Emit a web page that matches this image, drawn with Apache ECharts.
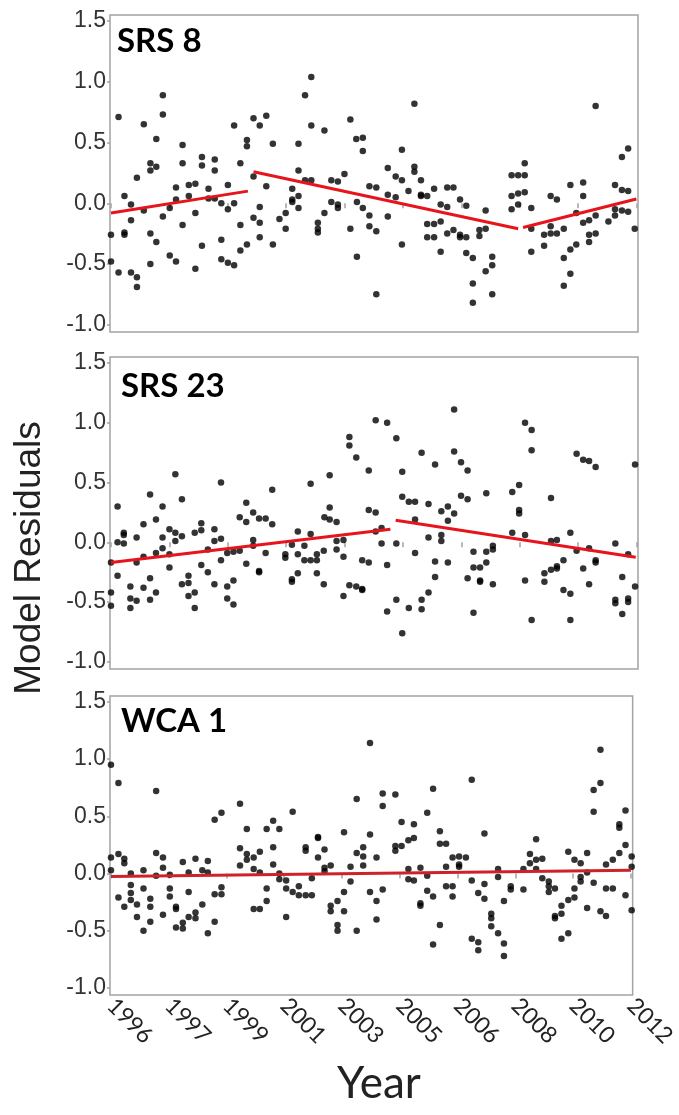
<!DOCTYPE html>
<html>
<head>
<meta charset="utf-8">
<script src="https://cdn.jsdelivr.net/npm/echarts/dist/echarts.min.js"></script>
<style>
html,body{margin:0;padding:0;background:#fff;}
#chart{width:679px;height:1115px;}
</style>
</head>
<body>
<div id="chart"></div>
<script>
// ---- tick labels ----
const yTickValues = [-1.0, -0.5, 0.0, 0.5, 1.0, 1.5];
const xTickValues = [1996, 1997.78, 1999.56, 2001.33, 2003.11, 2004.89, 2006.67, 2008.44, 2010.22, 2012];
const xTickLabels = ['1996', '1997', '1999', '2001', '2003', '2005', '2006', '2008', '2010', '2012'];
const panelNames = ['SRS 8', 'SRS 23', 'WCA 1'];

// ---- residuals [decimal year, residual] ----
const srs8Points = [
[1996.00,-0.26],[1996.00,-0.48],[1996.23,0.71],[1996.23,-0.57],[1996.41,0.06],[1996.41,-0.24],[1996.41,-0.26],[1996.61,-0.01],[1996.61,-0.14],[1996.61,-0.57],[1996.79,0.21],[1996.79,-0.61],[1996.79,-0.69],[1997.00,0.65],[1997.00,-0.06],[1997.20,0.33],[1997.20,0.27],[1997.20,-0.25],[1997.20,-0.50],[1997.38,0.53],[1997.38,0.30],[1997.38,-0.32],[1997.58,0.89],[1997.58,0.73],[1997.58,-0.11],[1997.79,-0.04],[1997.79,-0.43],[1997.98,0.13],[1997.98,0.03],[1997.98,-0.48],[1998.18,0.48],[1998.18,0.33],[1998.18,-0.18],[1998.37,0.15],[1998.37,0.06],[1998.57,0.16],[1998.57,-0.08],[1998.57,-0.54],[1998.77,0.38],[1998.77,0.31],[1998.77,-0.35],[1998.97,0.12],[1998.97,0.04],[1999.16,0.36],[1999.16,0.27],[1999.16,0.04],[1999.36,0.00],[1999.36,-0.30],[1999.36,-0.46],[1999.56,0.15],[1999.56,-0.05],[1999.56,-0.49],[1999.75,0.64],[1999.75,0.00],[1999.75,-0.51],[1999.94,0.33],[1999.94,-0.18],[1999.94,-0.39],[2000.14,0.52],[2000.14,0.47],[2000.14,-0.34],[2000.34,0.70],[2000.34,0.22],[2000.34,-0.12],[2000.53,0.64],[2000.53,-0.03],[2000.53,-0.16],[2000.53,-0.28],[2000.73,0.72],[2000.73,0.14],[2000.93,0.49],[2000.93,-0.34],[2001.13,-0.13],[2001.32,-0.08],[2001.32,-0.21],[2001.52,0.12],[2001.52,0.03],[2001.52,0.01],[2001.71,0.49],[2001.71,0.27],[2001.71,0.06],[2001.71,-0.04],[2001.91,0.89],[2001.91,0.19],[2002.10,1.04],[2002.10,0.64],[2002.10,0.19],[2002.30,-0.16],[2002.30,-0.21],[2002.30,-0.24],[2002.50,0.60],[2002.50,-0.08],[2002.71,0.19],[2002.71,0.01],[2002.91,0.18],[2002.91,-0.01],[2002.91,-0.04],[2003.11,0.24],[2003.29,0.69],[2003.29,-0.21],[2003.47,0.53],[2003.49,0.01],[2003.49,-0.44],[2003.67,0.54],[2003.67,0.43],[2003.67,-0.04],[2003.87,0.14],[2003.87,-0.10],[2003.87,-0.19],[2004.08,0.13],[2004.08,-0.23],[2004.08,-0.75],[2004.43,0.29],[2004.43,0.07],[2004.43,-0.11],
[2004.67,0.22],[2004.67,0.05],[2004.86,0.44],[2004.86,0.19],[2004.86,-0.34],[2005.06,0.10],[2005.24,0.82],[2005.24,0.30],[2005.24,0.26],[2005.44,0.19],[2005.44,0.07],[2005.44,0.06],[2005.63,0.06],[2005.63,-0.17],[2005.63,-0.28],[2005.84,0.12],[2005.84,-0.17],[2005.84,-0.28],[2006.04,-0.01],[2006.04,-0.15],[2006.04,-0.40],[2006.24,0.13],[2006.24,-0.03],[2006.24,-0.25],[2006.43,0.13],[2006.43,-0.22],[2006.63,0.03],[2006.63,-0.26],[2006.63,-0.28],[2006.82,-0.02],[2006.82,-0.28],[2006.82,-0.41],[2007.02,-0.45],[2007.02,-0.66],[2007.02,-0.82],[2007.22,-0.22],[2007.22,-0.27],[2007.41,-0.06],[2007.41,-0.21],[2007.41,-0.56],[2007.61,-0.44],[2007.61,-0.51],[2007.61,-0.75],[2008.20,0.23],[2008.20,0.06],[2008.20,-0.05],[2008.40,0.23],[2008.40,0.08],[2008.40,-0.01],[2008.60,0.33],[2008.60,0.23],[2008.60,0.09],[2008.80,-0.04],[2008.80,-0.21],[2008.80,-0.40],[2009.19,-0.26],[2009.19,-0.35],[2009.39,0.06],[2009.39,-0.19],[2009.39,-0.25],[2009.58,0.03],[2009.58,-0.25],[2009.79,-0.21],[2009.79,-0.45],[2009.79,-0.68],[2009.99,0.15],[2009.99,-0.38],[2009.99,-0.58],[2010.17,-0.08],[2010.17,-0.34],[2010.38,0.17],[2010.38,0.06],[2010.38,-0.16],[2010.56,-0.14],[2010.56,-0.26],[2010.56,-0.32],[2010.76,0.80],[2010.76,-0.10],[2010.76,-0.25],[2011.15,-0.15],[2011.35,0.15],[2011.35,-0.05],[2011.35,-0.10],[2011.56,0.38],[2011.56,0.11],[2011.56,-0.06],[2011.75,0.45],[2011.75,0.10],[2011.75,-0.07],[2011.95,-0.21]
];
const srs23Points = [
[1996.00,-0.17],[1996.00,-0.42],[1996.00,-0.53],[1996.20,0.30],[1996.20,0.00],[1996.20,-0.28],[1996.39,0.08],[1996.39,0.06],[1996.39,-0.01],[1996.59,-0.37],[1996.59,-0.47],[1996.59,-0.55],[1996.78,0.04],[1996.78,-0.17],[1996.78,-0.49],[1996.99,0.15],[1996.99,-0.12],[1996.99,-0.38],[1997.19,0.40],[1997.19,-0.30],[1997.19,-0.48],[1997.37,0.19],[1997.37,-0.09],[1997.37,-0.42],[1997.57,0.30],[1997.57,0.04],[1997.57,-0.05],[1997.78,0.11],[1997.78,-0.10],[1997.78,-0.21],[1997.96,0.57],[1997.96,0.08],[1997.96,0.01],[1998.16,0.36],[1998.16,0.05],[1998.16,-0.35],[1998.36,-0.28],[1998.36,-0.34],[1998.36,-0.45],[1998.55,0.08],[1998.55,-0.42],[1998.55,-0.55],[1998.75,0.16],[1998.75,0.10],[1998.75,-0.19],[1998.95,-0.06],[1998.95,-0.25],[1999.15,0.11],[1999.15,0.01],[1999.15,-0.35],[1999.35,0.50],[1999.35,0.03],[1999.35,-0.15],[1999.54,-0.09],[1999.54,-0.37],[1999.54,-0.47],[1999.73,-0.08],[1999.73,-0.32],[1999.73,-0.52],[1999.92,0.21],[1999.92,-0.07],[2000.12,0.33],[2000.12,0.17],[2000.12,-0.18],[2000.33,0.25],[2000.33,0.02],[2000.33,-0.03],[2000.51,0.20],[2000.51,-0.24],[2000.51,-0.25],[2000.71,0.20],[2000.71,-0.09],[2000.91,0.44],[2000.91,0.15],[2001.31,-0.10],[2001.31,-0.13],[2001.51,-0.02],[2001.51,-0.31],[2001.51,-0.33],[2001.69,0.09],[2001.69,-0.10],[2001.69,-0.26],[2001.89,-0.03],[2001.89,-0.15],[2002.08,0.49],[2002.08,0.07],[2002.08,-0.15],[2002.27,-0.10],[2002.27,-0.15],[2002.27,-0.26],[2002.48,-0.07],[2002.48,-0.35],[2002.50,0.21],[2002.66,0.56],[2002.66,0.29],[2002.66,0.19],[2002.87,0.17],[2002.87,0.01],[2002.87,-0.06],[2003.08,0.02],[2003.08,-0.12],[2003.08,-0.45],[2003.26,0.88],[2003.26,0.81],[2003.26,-0.36],[2003.47,0.71],[2003.47,-0.37],[2003.65,-0.15],[2003.65,-0.39],[2003.65,-0.40],[2003.85,0.60],[2003.85,0.27],[2003.85,-0.17],[2004.06,1.02],[2004.06,0.25],[2004.06,0.09],[2004.24,0.12],[2004.24,-0.01],[2004.41,1.00],[2004.41,-0.19],[2004.41,-0.58],
[2004.69,0.87],[2004.69,-0.01],[2004.69,-0.48],[2004.87,0.59],[2004.87,0.38],[2004.87,-0.76],[2005.07,0.34],[2005.07,-0.55],[2005.26,0.34],[2005.26,0.19],[2005.26,-0.09],[2005.46,0.75],[2005.46,-0.48],[2005.46,-0.56],[2005.67,0.32],[2005.67,0.04],[2005.67,-0.42],[2005.87,0.65],[2005.87,-0.16],[2005.87,-0.29],[2006.06,0.26],[2006.06,0.06],[2006.06,0.01],[2006.26,0.30],[2006.26,0.18],[2006.26,-0.17],[2006.45,1.11],[2006.45,0.76],[2006.45,0.24],[2006.66,0.67],[2006.66,0.39],[2006.86,0.60],[2006.86,0.36],[2006.86,-0.30],[2007.04,-0.08],[2007.04,-0.21],[2007.04,-0.59],[2007.24,-0.21],[2007.24,-0.32],[2007.24,-0.33],[2007.43,0.41],[2007.43,-0.08],[2007.43,-0.17],[2007.63,-0.03],[2007.63,-0.06],[2007.63,-0.35],[2008.22,0.42],[2008.22,0.08],[2008.43,0.48],[2008.43,0.27],[2008.43,0.24],[2008.61,1.00],[2008.61,0.06],[2008.61,-0.32],[2008.81,0.94],[2008.81,0.77],[2008.81,-0.65],[2009.20,-0.26],[2009.20,-0.33],[2009.40,0.37],[2009.40,0.01],[2009.40,-0.23],[2009.58,0.02],[2009.58,-0.20],[2009.58,-0.22],[2009.78,-0.15],[2009.78,-0.40],[2009.99,0.08],[2009.99,-0.43],[2009.99,-0.65],[2010.18,0.74],[2010.18,-0.07],[2010.38,0.69],[2010.38,-0.22],[2010.56,0.68],[2010.56,-0.05],[2010.56,-0.35],[2010.76,0.63],[2010.76,-0.15],[2010.76,-0.17],[2011.36,-0.01],[2011.36,-0.48],[2011.36,-0.51],[2011.57,-0.29],[2011.57,-0.60],[2011.75,-0.10],[2011.75,-0.47],[2011.75,-0.50],[2011.96,0.65],[2011.96,-0.37]
];
const wca1Points = [
[1996.00,0.95],[1996.00,0.14],[1996.00,0.03],[1996.23,0.79],[1996.23,0.17],[1996.23,-0.21],[1996.41,0.13],[1996.41,0.09],[1996.41,-0.29],[1996.61,0.00],[1996.61,-0.10],[1996.61,-0.17],[1996.61,-0.23],[1996.80,-0.27],[1996.80,-0.38],[1997.00,0.03],[1997.00,-0.13],[1997.00,-0.50],[1997.21,-0.22],[1997.21,-0.29],[1997.21,-0.42],[1997.39,0.72],[1997.39,0.18],[1997.39,-0.02],[1997.60,0.14],[1997.60,0.05],[1997.60,-0.36],[1997.81,-0.01],[1997.81,-0.13],[1997.81,-0.20],[1998.00,-0.29],[1998.00,-0.31],[1998.00,-0.47],[1998.21,0.10],[1998.21,-0.43],[1998.21,-0.48],[1998.39,0.01],[1998.39,-0.16],[1998.39,-0.38],[1998.60,0.13],[1998.60,-0.34],[1998.60,-0.39],[1998.81,0.03],[1998.81,-0.27],[1998.98,0.11],[1998.98,0.01],[1998.98,-0.52],[1999.19,0.47],[1999.19,-0.18],[1999.19,-0.42],[1999.40,0.53],[1999.40,-0.12],[1999.40,-0.18],[1999.97,0.61],[1999.97,0.22],[1999.97,0.07],[2000.18,0.39],[2000.18,0.17],[2000.18,0.12],[2000.39,0.14],[2000.39,0.04],[2000.39,-0.31],[2000.58,0.19],[2000.58,0.01],[2000.58,-0.31],[2000.79,0.39],[2000.79,-0.13],[2000.79,-0.24],[2000.99,0.46],[2000.99,0.23],[2000.99,0.08],[2001.18,0.39],[2001.18,0.00],[2001.18,-0.05],[2001.39,-0.06],[2001.39,-0.13],[2001.39,-0.38],[2001.59,0.54],[2001.59,-0.16],[2001.78,-0.11],[2001.78,-0.19],[2001.99,0.23],[2001.99,0.20],[2001.99,-0.19],[2002.18,-0.19],[2002.18,-0.04],[2002.37,0.32],[2002.37,0.31],[2002.37,0.14],[2002.57,0.21],[2002.57,0.05],[2002.57,0.02],[2002.76,0.07],[2002.76,-0.28],[2002.76,-0.33],[2002.97,-0.24],[2002.97,-0.45],[2002.97,-0.50],[2003.17,0.36],[2003.17,-0.16],[2003.17,-0.33],[2003.37,0.06],[2003.37,-0.07],[2003.56,0.65],[2003.56,0.18],[2003.56,-0.50],[2003.76,0.23],[2003.76,0.15],[2003.76,0.07],[2003.97,1.14],[2003.97,0.34],[2003.97,-0.16],[2004.17,0.14],[2004.17,-0.24],[2004.17,-0.40],[2004.36,0.70],[2004.36,0.59],[2004.36,-0.14],
[2004.75,0.69],[2004.75,0.24],[2004.75,0.20],[2004.94,0.45],[2004.94,0.24],[2005.15,0.29],[2005.15,0.04],[2005.15,-0.05],[2005.32,0.43],[2005.32,0.31],[2005.32,-0.06],[2005.52,0.05],[2005.52,-0.26],[2005.52,-0.28],[2005.73,0.53],[2005.73,-0.02],[2005.73,-0.15],[2005.91,0.74],[2005.91,-0.20],[2005.91,-0.62],[2006.12,0.37],[2006.12,0.26],[2006.12,-0.45],[2006.31,0.26],[2006.31,0.06],[2006.31,-0.11],[2006.51,0.14],[2006.51,-0.11],[2006.51,-0.20],[2006.71,0.15],[2006.71,0.08],[2006.71,0.06],[2006.92,0.14],[2007.10,0.82],[2007.10,-0.06],[2007.10,-0.57],[2007.30,-0.17],[2007.30,-0.60],[2007.30,-0.67],[2007.49,0.35],[2007.49,-0.09],[2007.49,-0.22],[2007.70,-0.35],[2007.70,-0.39],[2007.70,-0.46],[2007.91,0.04],[2007.91,-0.03],[2007.91,-0.52],[2008.09,-0.24],[2008.09,-0.61],[2008.09,-0.72],[2008.30,-0.11],[2008.30,-0.14],[2008.69,0.04],[2008.69,-0.14],[2008.89,0.17],[2008.89,0.09],[2009.08,0.30],[2009.08,0.12],[2009.08,0.04],[2009.27,0.13],[2009.27,-0.04],[2009.47,-0.07],[2009.47,-0.11],[2009.47,-0.16],[2009.66,-0.13],[2009.66,-0.37],[2009.66,-0.39],[2009.86,-0.28],[2009.86,-0.35],[2009.86,-0.57],[2010.07,0.19],[2010.07,-0.23],[2010.07,-0.52],[2010.26,0.12],[2010.26,-0.13],[2010.26,-0.21],[2010.45,0.09],[2010.45,-0.03],[2010.45,-0.07],[2010.65,0.18],[2010.65,0.01],[2010.65,-0.30],[2010.85,0.73],[2010.85,0.54],[2010.85,-0.08],[2011.06,1.08],[2011.06,0.79],[2011.06,-0.33],[2011.23,0.08],[2011.23,-0.13],[2011.23,-0.37],[2011.44,0.12],[2011.44,-0.13],[2011.64,0.43],[2011.64,0.40],[2011.64,0.18],[2011.83,0.55],[2011.83,0.25],[2011.83,-0.19],[2012.02,0.15],[2012.02,0.06],[2012.02,-0.32]
];

// ---- fitted trend segments [[x0,y0],[x1,y1]] ----
const srs8Trend = [[[1996.0,-0.08],[2000.17,0.10]], [[2000.34,0.26],[2008.40,-0.21]], [[2008.55,-0.20],[2012.0,0.035]]];
const srs23Trend = [[[1996.0,-0.17],[2004.51,0.11]], [[2004.67,0.185],[2011.98,-0.125]]];
const wca1Trend = [[[1996.0,-0.025],[2012.0,0.03]]];

const panelPoints = [srs8Points, srs23Points, wca1Points];
const panelTrends = [srs8Trend, srs23Trend, wca1Trend];
const trendColors = ['#e8141c', '#e8141c', '#d0202a'];

// layout
const grids = [
  {left: 110, top: 15, width: 528, height: 317},
  {left: 110, top: 357, width: 528, height: 312},
  {left: 110, top: 696, width: 528, height: 299}
];
const titleTops = [25, 370, 705];
const titleLefts = [117, 121, 121];

const chart = echarts.init(document.getElementById('chart'), null, {renderer: 'canvas'});
const xLabelFor = v => {
  const i = xTickValues.findIndex(t => Math.abs(t - v) < 0.005);
  return i >= 0 ? xTickLabels[i] : '';
};

const option = {
  animation: false,
  backgroundColor: '#fff',
  grid: grids.map(g => Object.assign({show: true, borderColor: '#a3a3a3', borderWidth: 1.5, backgroundColor: 'transparent'}, g)),
  title: panelNames.map((n, i) => ({
    text: n, left: titleLefts[i], top: titleTops[i], padding: 0,
    textStyle: {fontFamily: 'Lato', fontWeight: 'bold', fontSize: 33, color: '#000'}
  })),
  xAxis: grids.map((g, i) => ({
    gridIndex: i, type: 'value', min: 1995.97, max: 2012.05,
    axisLine: {show: false},
    splitLine: {show: false},
    axisTick: {show: true, customValues: xTickValues, length: 5, lineStyle: {color: '#a3a3a3', width: 1.5}},
    axisLabel: {
      show: i === 2, customValues: xTickValues, rotate: -45, margin: 7,
      fontFamily: 'Lato', fontSize: 23, color: '#222',
      formatter: xLabelFor
    }
  })),
  yAxis: grids.map((g, i) => ({
    gridIndex: i, type: 'value', min: -1.06, max: 1.55,
    axisLine: {show: false},
    splitLine: {show: false},
    axisTick: {show: true, customValues: yTickValues, length: 3, lineStyle: {color: '#a3a3a3', width: 1.5}},
    axisLabel: {
      customValues: yTickValues, margin: 4,
      fontFamily: 'Liberation Sans', fontSize: 23, color: '#333',
      formatter: v => v.toFixed(1)
    }
  })),
  graphic: [
    {type: 'text', rotation: Math.PI / 2, z: 10,
     x: 11, y: 558,
     style: {text: 'Model Residuals', font: '37px "Liberation Sans"', fill: '#222', align: 'center', verticalAlign: 'top'}},
    {type: 'text', x: 379, y: 1062,
     style: {text: 'Year', font: '44px Lato', fill: '#222', align: 'center', verticalAlign: 'top'}}
  ],
  series: []
};

panelPoints.forEach((pts, i) => {
  option.series.push({
    type: 'scatter', xAxisIndex: i, yAxisIndex: i, data: pts,
    symbolSize: 6.5, itemStyle: {color: '#000'}, z: 2, clip: false
  });
  panelTrends[i].forEach(seg => {
    option.series.push({
      type: 'line', xAxisIndex: i, yAxisIndex: i, data: seg,
      showSymbol: false, lineStyle: {color: trendColors[i], width: 3}, z: 3
    });
  });
});

chart.setOption(option);
</script>
</body>
</html>
